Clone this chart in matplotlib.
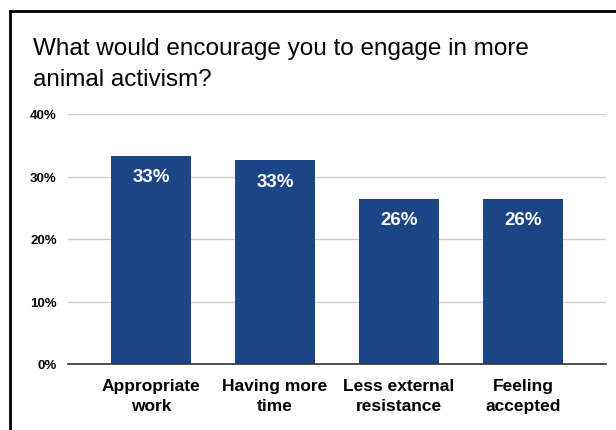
import matplotlib.pyplot as plt
from matplotlib.lines import Line2D

categories = ["Appropriate\nwork", "Having more\ntime", "Less external\nresistance", "Feeling\naccepted"]
values = [33.3, 32.6, 26.4, 26.4]
yticks = [0, 10, 20, 30, 40]

bar_color = "#1c4587"

plt.rcParams['font.family'] = ['Liberation Sans', 'DejaVu Sans']

fig = plt.figure(figsize=(6.16, 4.31), dpi=100)
ax = fig.add_axes([68 / 616, 1 - 365 / 431, (606 - 68) / 616, (365 - 115) / 431])

x = range(len(categories))
ax.bar(x, values, width=0.65, color=bar_color, zorder=3)

# value labels inside the top of each bar
for i, v in zip(x, values):
    ax.text(i, v - 2.0, f"{v:.0f}%", ha="center", va="top",
            color="white", fontsize=13.5, fontweight="bold", zorder=4)

ax.set_xlim(-0.67, 3.67)
ax.set_ylim(0, 40)
ax.set_yticks(yticks)
ax.set_yticklabels([f"{t}%" for t in yticks], fontsize=9.5, fontweight="bold")
ax.set_xticks(list(x))
ax.set_xticklabels(categories, fontsize=12.5, fontweight="bold", linespacing=1.45)
ax.tick_params(axis="both", length=0)
ax.tick_params(axis="y", pad=8)
ax.tick_params(axis="x", pad=10)

ax.grid(axis="y", color="#cccccc", linewidth=1, zorder=0)
for s in ["top", "right", "left"]:
    ax.spines[s].set_visible(False)
ax.spines["bottom"].set_color("#333333")
ax.spines["bottom"].set_linewidth(1.2)
ax.spines["bottom"].set_zorder(5)

fig.text(33 / 616, 1 - 38 / 431, "What would encourage you to engage in more\nanimal activism?",
         fontsize=17.5, va="top", ha="left", linespacing=1.5)

# frame lines along the top and left edge
fig.add_artist(Line2D([10 / 616, 1], [1 - 11.5 / 431, 1 - 11.5 / 431],
                      transform=fig.transFigure, color="black", linewidth=2))
fig.add_artist(Line2D([10 / 616, 10 / 616], [0, 1 - 11.5 / 431],
                      transform=fig.transFigure, color="black", linewidth=2))

fig.savefig("out.png", dpi=100)
